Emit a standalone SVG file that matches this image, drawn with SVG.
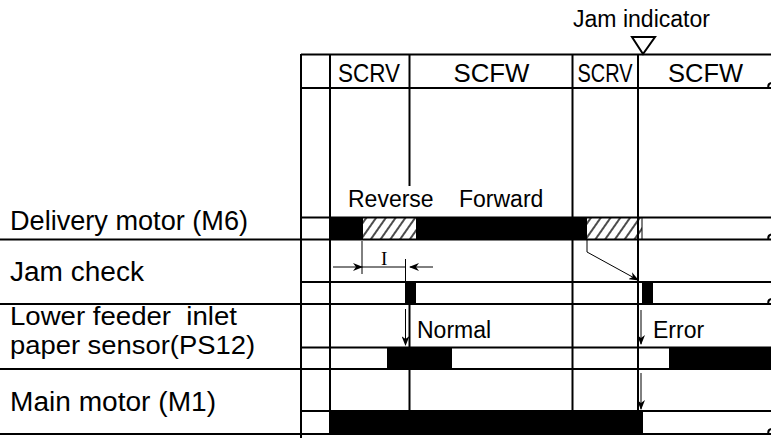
<svg xmlns="http://www.w3.org/2000/svg" width="771" height="438" viewBox="0 0 771 438">
<style>
.ln{stroke:#000;stroke-width:2;fill:none}
.th{stroke:#000;stroke-width:1;fill:none}
.lbl{font-family:"Liberation Sans",Arial,sans-serif;font-size:27px;fill:#000}
.lbl2{font-family:"Liberation Sans",Arial,sans-serif;font-size:25px;fill:#000}
.hd{font-family:"Liberation Sans",Arial,sans-serif;font-size:25px;fill:#000}
.sm{font-family:"Liberation Sans",Arial,sans-serif;font-size:23px;fill:#000}
.blk{fill:#000}
</style>
<defs>
<pattern id="hatch" patternUnits="userSpaceOnUse" width="8" height="8" patternTransform="rotate(35)">
<line x1="1" y1="0" x2="1" y2="8" stroke="#000" stroke-width="1.4"/>
</pattern>
<marker id="ah" markerWidth="10" markerHeight="8" refX="9" refY="4" orient="auto" markerUnits="userSpaceOnUse">
<path d="M0,0 L10,4 L0,8 L3,4 Z" fill="#000"/>
</marker>
</defs>
<rect width="771" height="438" fill="#fff"/>

<g id="labels">
<text class="lbl" x="10" y="229.5" textLength="238" lengthAdjust="spacingAndGlyphs">Delivery motor (M6)</text>
<text class="lbl" x="10" y="281" textLength="134" lengthAdjust="spacingAndGlyphs">Jam check</text>
<text class="lbl2" x="10" y="325" textLength="227" lengthAdjust="spacingAndGlyphs" xml:space="preserve">Lower feeder  inlet</text>
<text class="lbl2" x="10" y="354" textLength="245" lengthAdjust="spacingAndGlyphs">paper sensor(PS12)</text>
<text class="lbl" x="10" y="411" textLength="206" lengthAdjust="spacingAndGlyphs">Main motor (M1)</text>
</g>

<g id="header">
<text class="sm" x="573" y="27" textLength="137" lengthAdjust="spacingAndGlyphs">Jam indicator</text>
<polygon points="632,37 655,37 643,54" fill="#fff" stroke="#000" stroke-width="2"/>
<text class="hd" x="338" y="81.5" textLength="62" lengthAdjust="spacingAndGlyphs">SCRV</text>
<text class="hd" x="453.5" y="81.5" textLength="76" lengthAdjust="spacingAndGlyphs">SCFW</text>
<text class="hd" x="577.5" y="81.5" textLength="55" lengthAdjust="spacingAndGlyphs">SCRV</text>
<text class="hd" x="668" y="81.5" textLength="75" lengthAdjust="spacingAndGlyphs">SCFW</text>
</g>

<g id="signals">
<rect class="blk" x="330" y="217.5" width="33" height="22"/>
<rect x="363" y="217.5" width="53" height="22" fill="url(#hatch)"/>
<rect class="blk" x="416" y="217.5" width="171" height="22"/>
<rect x="587" y="217.5" width="55" height="22" fill="url(#hatch)"/>
<line class="th" x1="642" y1="217.5" x2="642" y2="239.5"/>
<rect class="blk" x="405" y="282" width="11" height="22"/>
<rect class="blk" x="642" y="282" width="11" height="22"/>
<rect class="blk" x="387" y="347.5" width="65" height="21.5"/>
<rect class="blk" x="669" y="347.5" width="102" height="21.5"/>
<rect class="blk" x="329" y="411" width="314" height="23"/>
</g>

<g id="grid">
<line class="ln" x1="301" y1="54.5" x2="771" y2="54.5"/>
<line class="ln" x1="301" y1="88" x2="771" y2="88"/>
<line class="ln" x1="301" y1="54" x2="301" y2="438"/>
<line class="ln" x1="330" y1="54" x2="330" y2="411"/>
<line class="ln" x1="409.5" y1="54" x2="409.5" y2="186"/>
<line class="ln" x1="409.5" y1="304" x2="409.5" y2="411"/>
<line class="ln" x1="572.5" y1="54" x2="572.5" y2="411"/>
<line class="ln" x1="638" y1="54" x2="638" y2="411"/>
<line class="ln" x1="301" y1="217.5" x2="771" y2="217.5"/>
<line class="ln" x1="0" y1="239.5" x2="771" y2="239.5"/>
<line class="ln" x1="301" y1="282" x2="771" y2="282"/>
<line class="ln" x1="0" y1="304" x2="771" y2="304"/>
<line class="ln" x1="301" y1="347.5" x2="771" y2="347.5"/>
<line class="ln" x1="0" y1="369" x2="771" y2="369"/>
<line class="ln" x1="301" y1="411" x2="771" y2="411"/>
<line class="ln" x1="0" y1="434" x2="771" y2="434"/>
<path class="ln" d="M771,83 Q767.5,84 768.5,88"/>
<path class="ln" d="M771,234.5 Q767.5,235.5 768.5,239.5"/>
<path class="ln" d="M771,299 Q767.5,300 768.5,304"/>
<path class="ln" d="M771,429 Q767.5,430 768.5,434"/>
</g>

<g id="texts">
<text class="sm" x="348" y="207">Reverse</text>
<text class="sm" x="459" y="207">Forward</text>
<text class="sm" x="417" y="338">Normal</text>
<text class="sm" x="653" y="338">Error</text>
<text x="381" y="265" font-family="Liberation Serif,serif" font-size="19">I</text>
</g>

<g id="connectors">
<line class="th" x1="362" y1="241" x2="362" y2="274"/>
<line class="th" x1="405.5" y1="259" x2="405.5" y2="282"/>
<line class="th" x1="333" y1="267" x2="362" y2="267" marker-end="url(#ah)"/>
<line class="th" x1="362" y1="267" x2="405" y2="267"/>
<line class="th" x1="433" y1="267" x2="410" y2="267" marker-end="url(#ah)"/>
<polyline class="th" points="587,239.5 587,252 638,280" marker-end="url(#ah)"/>
<line class="th" x1="405.5" y1="309" x2="405.5" y2="345" marker-end="url(#ah)"/>
<line class="th" x1="641" y1="310" x2="641" y2="344" marker-end="url(#ah)"/>
<line class="th" x1="641" y1="373" x2="641" y2="409" marker-end="url(#ah)"/>
</g>
</svg>
